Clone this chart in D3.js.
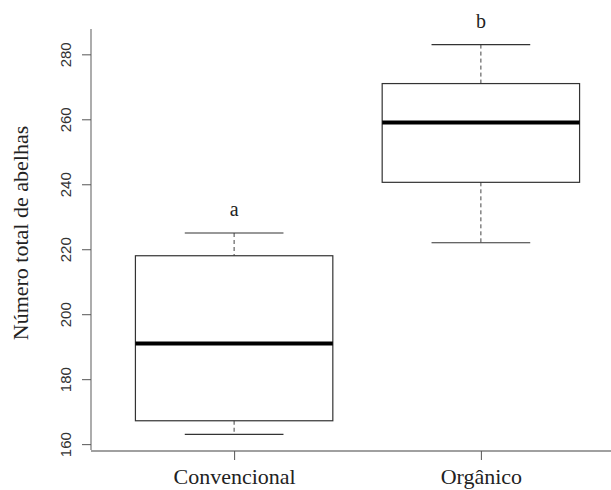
<!DOCTYPE html>
<html>
<head>
<meta charset="utf-8">
<script src="https://cdn.jsdelivr.net/npm/d3@7"></script>
<style>
  body { margin: 0; background: #fff; }
  svg { display: block; }
</style>
</head>
<body>
<svg width="611" height="490"></svg>
<script>
// boxplot stats
const groups = ['Convencional', 'Orgânico'];
const whiskerLow = [163, 222];
const q1 = [167.2, 240.6];
const median = [191, 259];
const q3 = [218, 271];
const whiskerHigh = [225, 283];
const letters = ['a', 'b'];
const yTicks = [160, 180, 200, 220, 240, 260, 280];

const svg = d3.select('svg');
const W = 611, H = 490;

// R-style ranges: 0.5..2.5 and data range, both padded by 4%
let x = d3.scaleLinear().domain([0.42, 2.58]).range([91, 624]);
let y = d3.scaleLinear().domain([158.2, 287.8]).range([450, 29]);

const data = groups.map((g, i) => ({
    name: g, i: i + 1,
    lo: whiskerLow[i], q1: q1[i], med: median[i], q3: q3[i], hi: whiskerHigh[i],
    letter: letters[i]
}));
const boxW = x(1.4) - x(0.6);
const capW = boxW / 2;

// y axis
let yAxis = d3.axisLeft(y).tickValues(yTicks).tickSize(9).tickSizeOuter(0);
let gy = svg.append('g').attr('transform', 'translate(91,0)').call(yAxis);
gy.select('.domain').attr('stroke', '#808080').attr('stroke-width', 1.3)
    .attr('d', `M0,${y.range()[1]}V${y.range()[0]}`);
gy.selectAll('.tick line').attr('stroke', '#555');
gy.selectAll('.tick text')
    .attr('transform', 'rotate(-90)')
    .attr('x', 0).attr('y', -20).attr('dy', 0)
    .attr('text-anchor', 'middle')
    .attr('fill', '#333')
    .style('font-family', '"Liberation Sans", Arial, sans-serif')
    .style('font-size', '15px');

// x axis
let xAxis = d3.axisBottom(x).tickValues([1, 2]).tickFormat((d) => groups[d - 1])
    .tickSize(9).tickSizeOuter(0);
let gx = svg.append('g').attr('transform', 'translate(0,451)').call(xAxis);
gx.select('.domain').attr('stroke', '#808080').attr('stroke-width', 1.3)
    .attr('d', `M91,0H${W}`);
gx.selectAll('.tick line').attr('stroke', '#555');
gx.selectAll('.tick text')
    .attr('y', 33).attr('dy', 0)
    .attr('fill', '#222')
    .style('font-family', '"Liberation Serif", "Times New Roman", serif')
    .style('font-size', '22px');

// y label
svg.append('text')
    .attr('transform', 'translate(28,233) rotate(-90)')
    .attr('text-anchor', 'middle')
    .attr('fill', '#222')
    .style('font-family', '"Liberation Serif", "Times New Roman", serif')
    .style('font-size', '22px')
    .text('Número total de abelhas');

let boxes = svg.append('g').selectAll('g').data(data).enter().append('g');

// whiskers
boxes.append('line')
    .attr('x1', (d) => x(d.i)).attr('x2', (d) => x(d.i))
    .attr('y1', (d) => y(d.hi)).attr('y2', (d) => y(d.q3))
    .attr('stroke', '#444').attr('stroke-dasharray', '4,3');
boxes.append('line')
    .attr('x1', (d) => x(d.i)).attr('x2', (d) => x(d.i))
    .attr('y1', (d) => y(d.q1)).attr('y2', (d) => y(d.lo))
    .attr('stroke', '#444').attr('stroke-dasharray', '4,3');
// caps
boxes.selectAll('line.cap').data((d) => [[d.i, d.hi], [d.i, d.lo]]).enter()
    .append('line').attr('class', 'cap')
    .attr('x1', (d) => x(d[0]) - capW / 2).attr('x2', (d) => x(d[0]) + capW / 2)
    .attr('y1', (d) => y(d[1])).attr('y2', (d) => y(d[1]))
    .attr('stroke', '#333').attr('stroke-width', 1.2);
// box
boxes.append('rect')
    .attr('x', (d) => x(d.i) - boxW / 2)
    .attr('width', boxW)
    .attr('y', (d) => y(d.q3))
    .attr('height', (d) => y(d.q1) - y(d.q3))
    .attr('fill', 'none').attr('stroke', '#333').attr('stroke-width', 1.2);
// median
boxes.append('line')
    .attr('x1', (d) => x(d.i) - boxW / 2).attr('x2', (d) => x(d.i) + boxW / 2)
    .attr('y1', (d) => y(d.med)).attr('y2', (d) => y(d.med))
    .attr('stroke', '#000').attr('stroke-width', 4);
// letters
boxes.append('text')
    .attr('x', (d) => x(d.i))
    .attr('y', (d) => y(d.hi) - 17)
    .attr('text-anchor', 'middle')
    .attr('fill', '#222')
    .style('font-family', '"Liberation Serif", "Times New Roman", serif')
    .style('font-size', '20px')
    .text((d) => d.letter);
</script>
</body>
</html>
